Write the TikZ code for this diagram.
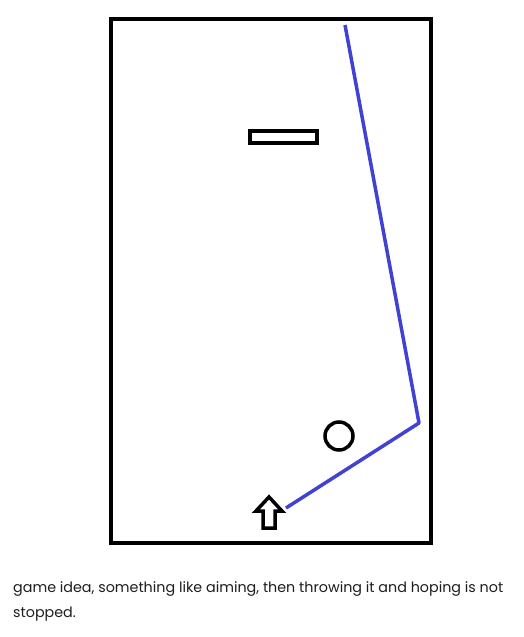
\documentclass[tikz,border=0pt]{standalone}
\usepackage{fontspec}
\setmainfont{Poppins}
\definecolor{aimblue}{RGB}{66,66,210}
\definecolor{txtgray}{RGB}{30,30,30}
\tikzset{
  frame/.style={draw=black, line width=4pt},
  outline/.style={draw=black, line width=3.5pt},
  aim/.style={draw=aimblue, line width=3.5pt, line join=round},
  caption/.style={anchor=base west, inner sep=0pt, text=txtgray, font=\fontsize{14.3}{17}\selectfont}
}
\begin{document}
\begin{tikzpicture}[x=1pt,y=-1pt]
\useasboundingbox[fill=white] (0,0) rectangle (524,637);
% playfield
\draw[frame] (111,19) rectangle (431,543);
% paddle / obstacle
\draw[outline] (250,131) rectangle (317,143);
% ball
\node[outline, circle, minimum size=28pt, inner sep=0pt] (ball) at (339,436) {};
% aim path
\coordinate (top) at (345,25);
\coordinate (bounce) at (419,423);
\coordinate (start) at (286,508);
\draw[aim] (start) -- (bounce) -- (top);
% arrow (launcher)
\draw[outline, line join=miter] (269,497) -- (282,511) -- (275,511) -- (275,528) -- (263,528) -- (263,511) -- (256,511) -- cycle;
% caption
\node[caption] (line1) at (13,592) {game idea, something like aiming, then throwing it and hoping is not};
\node[caption] (line2) at (13,617) {stopped.};
\end{tikzpicture}
\end{document}
